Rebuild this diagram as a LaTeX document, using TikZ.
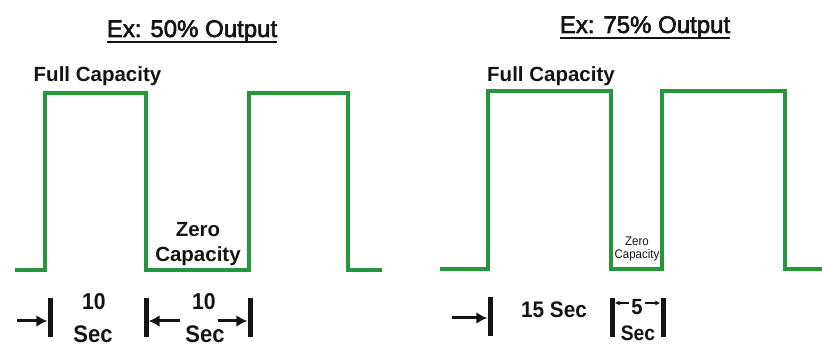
\documentclass[tikz,border=0pt]{standalone}
\usepackage{fontspec}
\setmainfont{Liberation Sans}
\newfontfamily\heavysans{Liberation Sans}[FakeBold=2.5]
\newfontfamily\tallsans{Liberation Sans}[FakeStretch=0.92]
\usetikzlibrary{arrows.meta,positioning}
\definecolor{wavegreen}{RGB}{38,150,60}
\definecolor{ink}{RGB}{20,20,20}
\tikzset
{
    heading/.style  = {font=\heavysans\fontsize{24}{26}\selectfont, text=ink, inner sep=0pt, anchor=base},
    levelcap/.style = {font=\bfseries\fontsize{20.5}{25}\selectfont, text=ink, inner sep=0pt, align=center},
    tinycap/.style  = {font=\tallsans\fontsize{12.5}{13}\selectfont, text=ink, inner sep=0pt, align=center},
    timenum/.style  = {font=\tallsans\bfseries\fontsize{23}{24}\selectfont, text=ink, inner sep=0pt, anchor=base},
    timesec/.style  = {font=\tallsans\bfseries\fontsize{24}{24}\selectfont, text=ink, inner sep=0pt, anchor=base},
    marker/.style   = {fill=ink, inner sep=0pt, minimum width=5pt, minimum height=39pt},
    wave/.style     = {draw=wavegreen, line width=4.5pt, line join=miter},
    span/.style     = {-{Latex[length=11pt,width=12pt]}, draw=ink, line width=3pt},
    minispan/.style = {-{Latex[length=5pt,width=5pt]}, draw=ink, line width=1.4pt}
}
\begin{document}
\begin{tikzpicture}[x=1pt, y=-1pt]
    \useasboundingbox (0,0) rectangle (822,347);

    % 50% duty cycle
    \node [heading] (title50) at (192,37) {Ex: 50\% Output};
    \draw [ink, line width=1.6pt] ([yshift=-5pt]title50.base west) -- ([yshift=-5pt]title50.base east);
    \node [levelcap, anchor=base] (full50) at (97.5,82) {Full Capacity};
    \node [levelcap] (zero50) at (198,244.5) {Zero\\Capacity};
    \draw [wave] (15,270) -- (45,270) -- (45,93) -- (146,93) -- (146,270)
        -- (249,270) -- (249,93) -- (348,93) -- (348,270) -- (382,270);

    \node [marker] (bar1) at (50,317.5) {};
    \node [marker] (bar2) at (146,317.5) {};
    \node [marker] (bar3) at (250,317.5) {};
    \coordinate (in1) at (17,321);
    \coordinate (in2) at (180,321);
    \coordinate (in3) at (218,321);
    \draw [span] (in1) -- (in1 -| bar1.west);
    \draw [span] (in2) -- (in2 -| bar2.east);
    \draw [span] (in3) -- (in3 -| bar3.west);
    \node [timenum] (on50) at (94,310) {10};
    \node [timesec] (onsec50) at (93,342) {Sec};
    \node [timenum] (off50) at (204,310) {10};
    \node [timesec] (offsec50) at (205,342) {Sec};

    % 75% duty cycle
    \node [heading] (title75) at (645,33) {Ex: 75\% Output};
    \draw [ink, line width=1.6pt] ([yshift=-5pt]title75.base west) -- ([yshift=-5pt]title75.base east);
    \node [levelcap, anchor=base] (full75) at (551,82) {Full Capacity};
    \node [tinycap] (zero75) at (637,249) {Zero\\Capacity};
    \draw [wave] (440,269) -- (488,269) -- (488,91) -- (611,91) -- (611,269)
        -- (662,269) -- (662,91) -- (785,91) -- (785,269) -- (822,269);

    \node [marker] (bar4) at (490,316.5) {};
    \node [marker] (bar5) at (612,317.5) {};
    \node [marker] (bar6) at (663,317.5) {};
    \coordinate (in4) at (452,318);
    \draw [span] (in4) -- (in4 -| bar4.west);
    \node [timesec, font=\tallsans\bfseries\fontsize{22.5}{24}\selectfont] (on75) at (554,318) {15 Sec};
    \node [timenum, font=\tallsans\bfseries\fontsize{22}{22}\selectfont] (off75) at (637,315) {5};
    \coordinate (left5) at (629,303);
    \coordinate (right5) at (645,303);
    \draw [minispan] (left5) -- (left5 -| bar5.east);
    \draw [minispan] (right5) -- (right5 -| bar6.west);
    \node [timesec, font=\tallsans\bfseries\fontsize{21}{22}\selectfont] (offsec75) at (638,341) {Sec};
\end{tikzpicture}
\end{document}
